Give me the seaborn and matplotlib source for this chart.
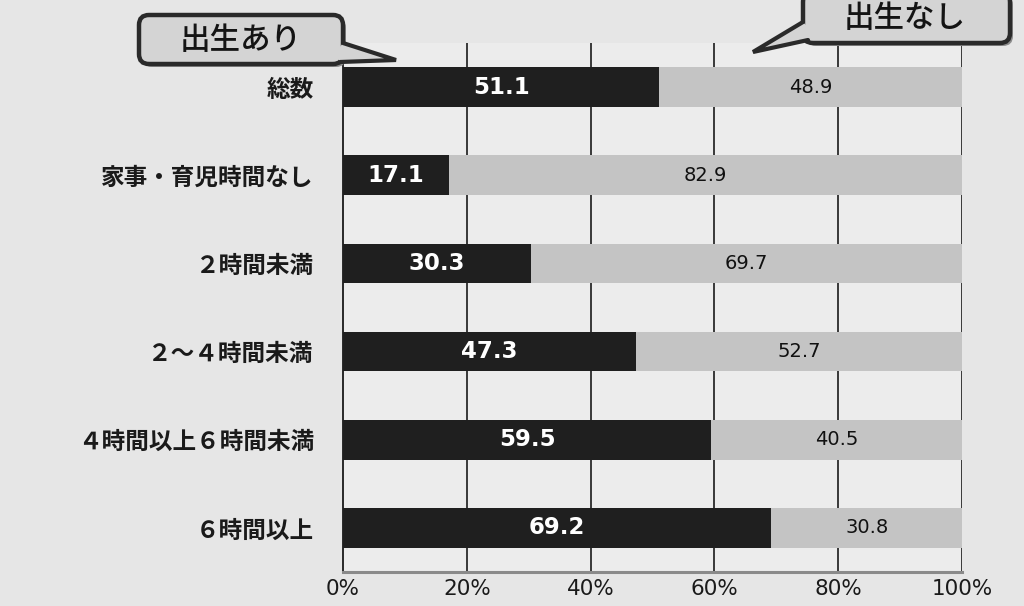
import matplotlib
matplotlib.use("Agg")
import matplotlib.pyplot as plt
from matplotlib.patches import FancyBboxPatch, Polygon
from matplotlib.lines import Line2D
import numpy as np
import pandas as pd
import seaborn as sns

categories = ["総数", "家事・育児時間なし", "２時間未満", "２〜４時間未満",
              "４時間以上６時間未満", "６時間以上"]
birth_yes = [51.1, 17.1, 30.3, 47.3, 59.5, 69.2]
birth_no = [48.9, 82.9, 69.7, 52.7, 40.5, 30.8]
x_ticks = [0, 20, 40, 60, 80, 100]
x_tick_labels = ["0%", "20%", "40%", "60%", "80%", "100%"]
series_names = ["出生あり", "出生なし"]

sns.set_theme(style="white")
plt.rcParams["font.family"] = ["Noto Sans CJK JP", "DejaVu Sans"]

df = pd.DataFrame({
    "category": categories,
    "yes": birth_yes,
    "no": birth_no,
})
df["total"] = df["yes"] + df["no"]

W, H = 1024, 606
fig = plt.figure(figsize=(W / 100, H / 100), dpi=100)
fig.patch.set_facecolor("#e6e6e6")
ax = fig.add_axes([343 / W, 1 - 572 / H, (962 - 343) / W, (572 - 43) / H])
ax.set_facecolor("#ececec")

# light segment spans the whole row, dark segment drawn over it
sns.barplot(data=df, y="category", x="total", orient="h", color="#c4c4c4",
            width=0.45, saturation=1, ax=ax, zorder=2, linewidth=0)
sns.barplot(data=df, y="category", x="yes", orient="h", color="#1f1f1f",
            width=0.45, saturation=1, ax=ax, zorder=3, linewidth=0)

ax.set_xlim(0, 100)
ax.set_ylim(len(categories) - 0.5, -0.5)
ax.set_xticks(x_ticks)
ax.set_xticklabels(x_tick_labels, family="DejaVu Sans", fontsize=15.5)
ax.set_xlabel("")
ax.set_ylabel("")
ax.tick_params(axis="y", length=0, labelsize=17, pad=21)
for lab in ax.get_yticklabels():
    lab.set_fontweight("bold")
    lab.set_color("#1a1a1a")
ax.tick_params(axis="x", length=0, pad=5, colors="#1a1a1a")

# boundary ticks on the category axis
ax.set_yticks(np.arange(0.5, len(categories) - 1), minor=True)
ax.tick_params(axis="y", which="minor", length=6, width=1.2, color="#222",
               direction="out")

for gx in x_ticks[1:]:
    ax.axvline(gx, color="#1a1a1a", lw=1.2, zorder=1)

for side in ["top", "right"]:
    ax.spines[side].set_visible(False)
ax.spines["left"].set_color("#1a1a1a")
ax.spines["left"].set_linewidth(1.3)
ax.spines["bottom"].set_color("#8a8a8a")
ax.spines["bottom"].set_linewidth(2.2)

for i, (y, n) in enumerate(zip(birth_yes, birth_no)):
    ax.text(y / 2, i, f"{y:.1f}", ha="center", va="center", color="white",
            fontsize=16.5, fontweight="bold", family="DejaVu Sans", zorder=4)
    ax.text(y + n / 2, i, f"{n:.1f}", ha="center", va="center",
            color="#111111", fontsize=14, family="DejaVu Sans", zorder=4)


def fp(x, y):
    """Top-left pixel coordinates to figure fractions."""
    return (x / W, 1 - y / H)


def callout(text, box, tail_base, tip, center):
    x0, y0, x1, y1 = box
    fc, ec = "#d4d4d4", "#2a2a2a"
    # soft drop shadow
    sx, sy = fp(x0 + 3, y1 + 3)
    fig.patches.append(FancyBboxPatch(
        (sx, sy), (x1 - x0) / W, (y1 - y0) / H,
        boxstyle=f"round,pad=0,rounding_size={10 / W}",
        transform=fig.transFigure, fc="#8c8c8c", ec="none", zorder=8,
        mutation_aspect=W / H))
    bx, by = fp(x0, y1)
    fig.patches.append(FancyBboxPatch(
        (bx, by), (x1 - x0) / W, (y1 - y0) / H,
        boxstyle=f"round,pad=0,rounding_size={10 / W}",
        transform=fig.transFigure, fc=fc, ec=ec, lw=3.2, zorder=9,
        mutation_aspect=W / H))
    (a, b) = tail_base
    inner = [fp(*a), fp(*tip), fp(*b)]
    # tail fill reaches slightly into the box to hide the border there
    cx = (a[0] + b[0]) / 2 + (-6 if tip[0] > a[0] else 6)
    cy = (a[1] + b[1]) / 2
    poly = [fp(a[0], a[1]), fp(*tip), fp(b[0], b[1]), fp(cx, cy)]
    fig.patches.append(Polygon(poly, closed=True, transform=fig.transFigure,
                               fc=fc, ec="none", zorder=10))
    fig.lines.append(Line2D([inner[0][0], inner[1][0], inner[2][0]],
                            [inner[0][1], inner[1][1], inner[2][1]],
                            transform=fig.transFigure, color=ec, lw=3,
                            solid_joinstyle="miter", zorder=11))
    tx, ty = fp(*center)
    fig.text(tx, ty, text, ha="center", va="center", fontsize=22,
             fontweight="medium", color="#141414", zorder=12)


callout(series_names[0], box=(139, 15, 343, 64),
        tail_base=((343, 43), (340, 62)), tip=(396, 60), center=(241, 40))
callout(series_names[1], box=(803, -8, 1010, 43),
        tail_base=((803, 22), (808, 40)), tip=(753, 52), center=(905, 19))

fig.savefig("out.png", dpi=100, facecolor=fig.get_facecolor())
